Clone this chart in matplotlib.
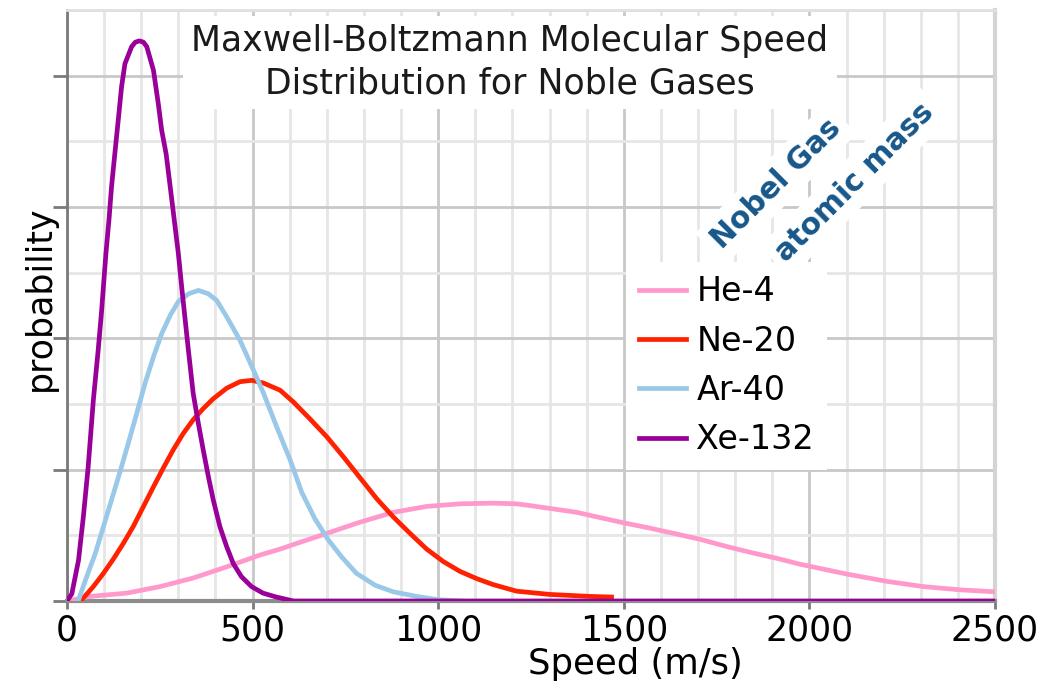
import matplotlib
matplotlib.use("Agg")
import matplotlib.pyplot as plt
from matplotlib.ticker import MultipleLocator

# values (speed in m/s, probability in grid units)
he_x = [0, 62, 161, 251, 340, 430, 520, 574, 610, 700, 789, 879, 969, 1059, 1148,
        1211, 1238, 1301, 1373, 1436, 1500, 1570, 1642, 1705, 1777, 1849, 1912, 1975,
        2101, 2208, 2306, 2406, 2500]
he_y = [0, 0.07, 0.12, 0.22, 0.35, 0.52, 0.7, 0.79, 0.86, 1.03, 1.2, 1.35, 1.44, 1.48, 1.49,
        1.48, 1.46, 1.41, 1.35, 1.27, 1.19, 1.11, 1.02, 0.94, 0.83, 0.73, 0.65, 0.56,
        0.41, 0.3, 0.22, 0.17, 0.14]

ne_x = [40, 71, 98, 125, 152, 179, 206, 233, 259, 286, 313, 340, 367, 394, 430, 466,
        498, 529, 574, 610, 655, 700, 744, 789, 834, 879, 924, 969, 1014, 1059, 1104,
        1148, 1211, 1301, 1409, 1467]
ne_y = [0.02, 0.22, 0.42, 0.64, 0.88, 1.14, 1.44, 1.74, 2.02, 2.3, 2.55, 2.76, 2.93, 3.08, 3.24, 3.34,
        3.36, 3.32, 3.21, 3.03, 2.77, 2.5, 2.2, 1.88, 1.56, 1.28, 1.03, 0.79, 0.6, 0.45, 0.34,
        0.25, 0.15, 0.1, 0.07, 0.06]

ar_x = [30, 53, 76, 98, 120, 143, 165, 188, 210, 233, 255, 278, 300, 328, 354, 380,
        403, 430, 466, 502, 529, 565, 601, 632, 668, 704, 740, 780, 830, 879, 942,
        1000, 1060]
ar_y = [0, 0.37, 0.72, 1.13, 1.54, 1.97, 2.4, 2.86, 3.31, 3.72, 4.07, 4.35, 4.56, 4.68, 4.73, 4.68,
        4.58, 4.33, 3.97, 3.52, 3.17, 2.65, 2.15, 1.66, 1.25, 0.93, 0.67, 0.42, 0.24, 0.14, 0.07,
        0.02, 0]

xe_x = [0, 13, 31, 44, 57, 71, 84, 93, 98, 105, 113, 120, 129, 138, 147, 156, 174,
        184, 195, 206, 215, 233, 246, 255, 267, 278, 289, 300, 309, 318, 327, 340,
        354, 367, 381, 394, 412, 430, 448, 470, 497, 528, 564, 610, 2500]
xe_y = [0, 0.11, 0.62, 1.28, 2.04, 3.06, 3.82, 4.4, 4.78, 5.3, 5.8, 6.31, 6.82, 7.32, 7.83, 8.18, 8.44,
        8.51, 8.53, 8.51, 8.44, 8.08, 7.57, 7.17, 6.81, 6.31, 5.8, 5.29, 4.78, 4.3, 3.82, 3.16,
        2.7, 2.3, 1.89, 1.54, 1.13, 0.83, 0.57, 0.37, 0.22, 0.12, 0.06, 0.0, 0.0]

labels = ["He-4", "Ne-20", "Ar-40", "Xe-132"]
colors = ["#ff99cc", "#ff2200", "#99c8e8", "#990099"]

fig = plt.figure(figsize=(10.45, 6.83), dpi=100)
ax = fig.add_axes([67 / 1045, 1 - 601 / 683, 928 / 1045, 591 / 683])

series = [(he_x, he_y), (ne_x, ne_y), (ar_x, ar_y), (xe_x, xe_y)]
for (xs, ys), lab, c in zip(series, labels, colors):
    ax.plot(xs, ys, color=c, lw=3.4, label=lab, solid_joinstyle="round", zorder=4)

ax.set_xlim(0, 2500)
ax.set_ylim(0, 9)
ax.xaxis.set_major_locator(MultipleLocator(500))
ax.xaxis.set_minor_locator(MultipleLocator(100))
ax.yaxis.set_major_locator(MultipleLocator(2))
ax.yaxis.set_minor_locator(MultipleLocator(1))
ax.set_axisbelow(True)
ax.grid(which="major", color="#c8c8c8", lw=2)
ax.grid(which="minor", color="#e6e6e6", lw=2)

ax.tick_params(axis="x", which="major", length=6, width=2, color="#7a7a7a",
               labelsize=25, pad=3)
ax.tick_params(axis="x", which="minor", length=0)
ax.tick_params(axis="y", which="major", length=10, width=2, color="#7a7a7a",
               labelleft=False)
ax.tick_params(axis="y", which="minor", length=0)

ax.spines["left"].set_color("#7a7a7a")
ax.spines["left"].set_linewidth(2)
ax.spines["bottom"].set_color("#8c8c8c")
ax.spines["bottom"].set_linewidth(3)
ax.spines["right"].set_color("#d4d4d4")
ax.spines["right"].set_linewidth(3)
ax.spines["top"].set_color("#e0e0e0")
ax.spines["top"].set_linewidth(2)

ax.set_xlabel("Speed (m/s)", fontsize=25.5)
ax.xaxis.set_label_coords((635 - 67) / 928, -0.078)
ax.set_ylabel("probability", fontsize=25)
ax.yaxis.set_label_coords(-0.011, 0.513)

ax.text(1193, 8.2, "Maxwell-Boltzmann Molecular Speed\nDistribution for Noble Gases",
        ha="center", va="center", fontsize=25, color="#1a1a1a", linespacing=1.3,
        bbox=dict(boxstyle="square,pad=0.25", fc="white", ec="none"), zorder=3)

ax.text(1910, 6.36, "Nobel Gas", rotation=45, ha="center", va="center",
        fontsize=21.5, fontweight="bold", color="#17578a", rotation_mode="anchor",
        bbox=dict(boxstyle="square,pad=0.25", fc="white", ec="none"), zorder=3)
ax.text(2123, 6.38, "atomic mass", rotation=45, ha="center", va="center",
        fontsize=21.5, fontweight="bold", color="#17578a", rotation_mode="anchor",
        bbox=dict(boxstyle="square,pad=0.25", fc="white", ec="none"), zorder=3)

leg = ax.legend(loc="upper left", bbox_to_anchor=((626 - 67) / 928, (601 - 262) / 591),
                fontsize=24, frameon=True, fancybox=False, facecolor="white",
                edgecolor="none", framealpha=1, handlelength=1.41, handletextpad=0.3,
                labelspacing=0.49, borderpad=0.4, borderaxespad=0)
leg.set_zorder(3)

plt.savefig("out.png", dpi=100)
